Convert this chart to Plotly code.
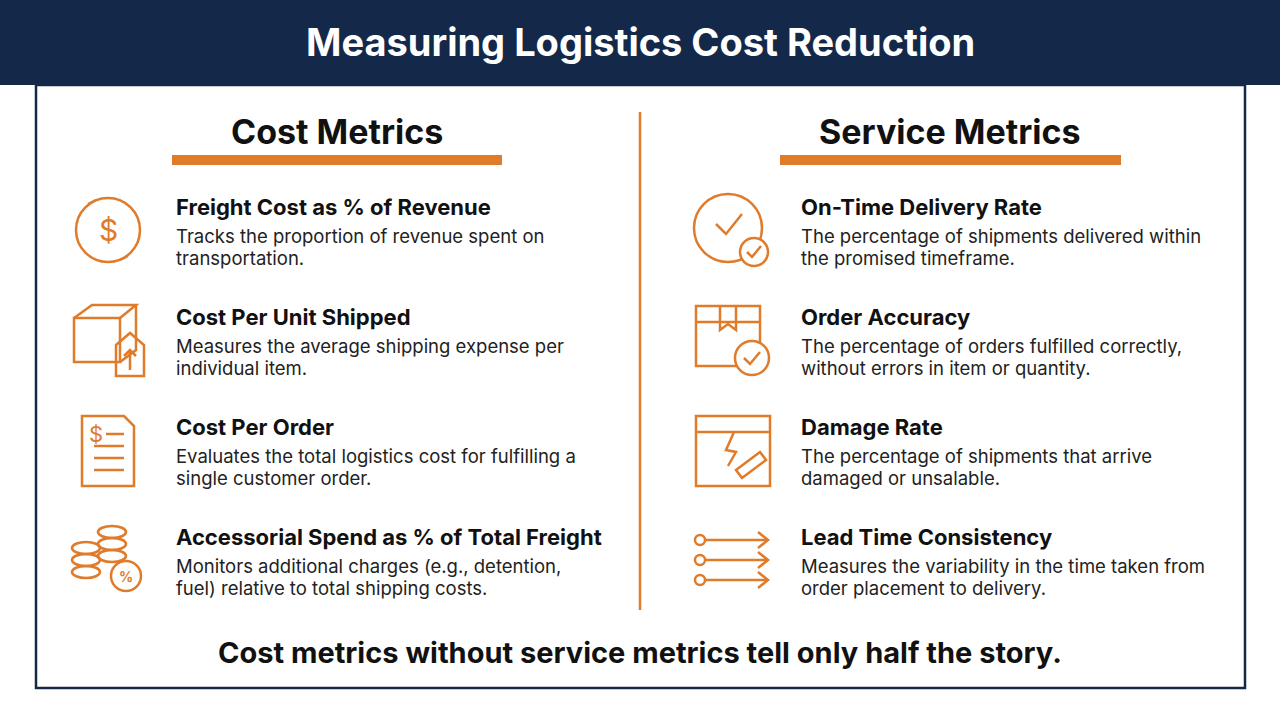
import plotly.graph_objects as go

TITLE = "Measuring Logistics Cost Reduction"
SECTIONS = ["Cost Metrics", "Service Metrics"]
LEFT_TITLES = ["Freight Cost as % of Revenue", "Cost Per Unit Shipped", "Cost Per Order",
               "Accessorial Spend as % of Total Freight"]
LEFT_DESC = [["Tracks the proportion of revenue spent on", "transportation."],
             ["Measures the average shipping expense per", "individual item."],
             ["Evaluates the total logistics cost for fulfilling a", "single customer order."],
             ["Monitors additional charges (e.g., detention,", "fuel) relative to total shipping costs."]]
RIGHT_TITLES = ["On-Time Delivery Rate", "Order Accuracy", "Damage Rate", "Lead Time Consistency"]
RIGHT_DESC = [["The percentage of shipments delivered within", "the promised timeframe."],
              ["The percentage of orders fulfilled correctly,", "without errors in item or quantity."],
              ["The percentage of shipments that arrive", "damaged or unsalable."],
              ["Measures the variability in the time taken from", "order placement to delivery."]]
FOOTER = "Cost metrics without service metrics tell only half the story."

NAVY = "#14284a"
OR = "#e07b2a"
FONT = "Inter"
ROW_Y = [207, 317, 427, 537]

fig = go.Figure()
shapes, ann = [], []

def rect(x0, y0, x1, y1, fill=None, line=None, w=2.5):
    shapes.append(dict(type="rect", x0=x0, y0=y0, x1=x1, y1=y1, fillcolor=fill or "rgba(0,0,0,0)",
                       line=dict(color=line or "rgba(0,0,0,0)", width=w if line else 0), layer="above"))

def circ(cx, cy, r, color=OR, w=2.5, fill=None):
    shapes.append(dict(type="circle", x0=cx-r, y0=cy-r, x1=cx+r, y1=cy+r,
                       fillcolor=fill or "rgba(0,0,0,0)", line=dict(color=color, width=w), layer="above"))

def path(d, color=OR, w=2.5):
    shapes.append(dict(type="path", path=d, line=dict(color=color, width=w), layer="above"))

def txt(x, y, s, size, color="#111", bold=False, anchor="left"):
    ann.append(dict(x=x, y=y, text=f"<b>{s}</b>" if bold else s, showarrow=False, xanchor=anchor,
                    yanchor="middle", font=dict(family=FONT, size=size, color=color)))

# header & frame
rect(0, 0, 1280, 85, fill=NAVY)
txt(640, 42, TITLE, 38, "white", True, "center")
rect(36, 85, 1245, 688, line=NAVY, w=2.5)
shapes.append(dict(type="line", x0=640, y0=112, x1=640, y1=610, line=dict(color=OR, width=2.5)))

# sections
txt(337, 131, SECTIONS[0], 34, "#111", True, "center")
rect(172, 155, 502, 165, fill=OR)
txt(950, 131, SECTIONS[1], 34, "#111", True, "center")
rect(780, 155, 1121, 165, fill=OR)

for i, y in enumerate(ROW_Y):
    txt(174, y, LEFT_TITLES[i], 22, "#111", True)
    txt(174, y+29, LEFT_DESC[i][0], 18.5, "#222")
    txt(174, y+51, LEFT_DESC[i][1], 18.5, "#222")
    txt(799, y, RIGHT_TITLES[i], 22, "#111", True)
    txt(799, y+29, RIGHT_DESC[i][0], 18.5, "#222")
    txt(799, y+51, RIGHT_DESC[i][1], 18.5, "#222")

# icons left
circ(108, 230, 32); txt(108, 230, "$", 30, OR, False, "center")
path("M96,200 L88,204 M120,260 L128,256")
rect(74, 318, 120, 362, line=OR); path("M74,318 L92,305 L136,305 L120,318"); path("M136,305 L136,350 L120,362")
path("M116,345 L130,333 L144,345 L144,376 L116,376 Z"); path("M130,370 L130,350 M124,356 L130,350 L136,356")
path("M82,416 L124,416 L134,426 L134,486 L82,486 Z"); txt(96, 434, "$", 22, OR, False, "center")
for yy in [446, 458, 470]:
    path(f"M94,{yy} L124,{yy}")
path("M106,434 L124,434")
for k in range(3):
    shapes.append(dict(type="circle", x0=72, y0=548+k*12-6, x1=100, y1=548+k*12+6, line=dict(color=OR, width=2.5), layer="above"))
for k in range(3):
    shapes.append(dict(type="circle", x0=98, y0=532+k*12-6, x1=126, y1=532+k*12+6, line=dict(color=OR, width=2.5), layer="above"))
circ(126, 576, 15, fill="white"); txt(126, 576, "%", 14, OR, True, "center")

# icons right
circ(728, 228, 34); path("M716,224 L726,234 L742,214"); circ(754, 252, 14, fill="white"); path("M747,252 L752,257 L761,246")
rect(696, 306, 760, 366, line=OR); path("M696,322 L760,322"); path("M720,306 L720,330 L728,324 L736,330 L736,306")
circ(752, 358, 17, fill="white"); path("M744,358 L750,364 L760,352")
rect(696, 416, 770, 486, line=OR); path("M696,432 L770,432"); path("M734,432 L726,450 L736,452 L728,466")
path("M736,470 L760,452 L766,460 L742,478 Z")
for k, yy in enumerate([540, 560, 580]):
    circ(700, yy, 5)
    path(f"M706,{yy} L768,{yy} M758,{yy-8} L768,{yy} L758,{yy+8}")

txt(640, 652, FOOTER, 29, "#111", True, "center")

fig.update_layout(width=1280, height=714, margin=dict(l=0, r=0, t=0, b=0),
                  plot_bgcolor="white", paper_bgcolor="white", shapes=shapes, annotations=ann,
                  xaxis=dict(range=[0, 1280], visible=False, fixedrange=True),
                  yaxis=dict(range=[714, 0], visible=False, fixedrange=True), showlegend=False)
fig.write_html("out.html", config={"displayModeBar": False},
               post_script="document.body.style.margin='0';document.body.style.overflow='hidden';")
